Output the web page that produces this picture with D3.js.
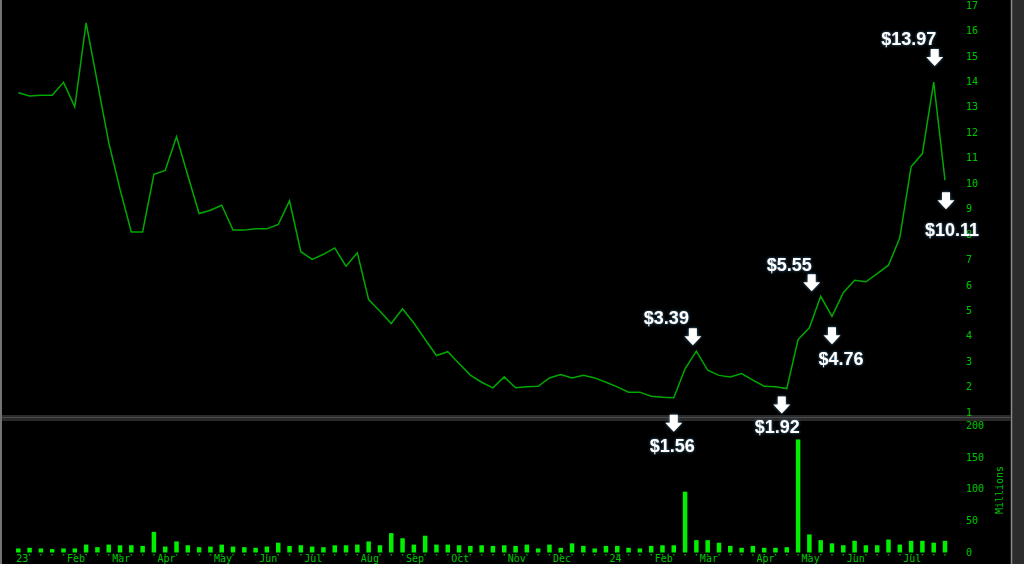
<!DOCTYPE html>
<html>
<head>
<meta charset="utf-8">
<script src="https://cdn.jsdelivr.net/npm/d3@7"></script>
<style>
  body { margin: 0; background: #000; }
  svg { display: block; }
  .tick text { font-family: "DejaVu Sans Mono", monospace; font-size: 10px; fill: #00c400; }
  .ann text { font-family: "Liberation Sans", Arial, sans-serif; font-weight: bold; font-size: 18px; fill: #fff; }
</style>
</head>
<body>
<div id="chart"></div>
<script>
// weekly closes, first week starts Mon 2 Jan 2023
const firstWeek = new Date(2023, 0, 2);
const closes = [
  13.55, 13.42, 13.45, 13.45, 13.96, 13.0, 16.3, 13.95, 11.6, 9.75,
  8.08, 8.08, 10.34, 10.5, 11.82, 10.3, 8.8, 8.93, 9.13, 8.15,
  8.15, 8.2, 8.2, 8.37, 9.3, 7.3, 7.0, 7.2, 7.45, 6.73,
  7.26, 5.42, 4.96, 4.48, 5.06, 4.5, 3.85, 3.22, 3.37, 2.91,
  2.45, 2.17, 1.95, 2.38, 1.95, 1.99, 2.01, 2.34, 2.47, 2.34,
  2.44, 2.34, 2.17, 1.99, 1.78, 1.78, 1.62, 1.58, 1.56, 2.7,
  3.39, 2.64, 2.44, 2.38, 2.51, 2.25, 2.01, 1.99, 1.92, 3.85,
  4.31, 5.55, 4.76, 5.69, 6.18, 6.12, 6.44, 6.77, 7.85, 10.64,
  11.16, 13.97, 10.11
];
// volume in millions
const volumes = [
  4, 5, 4, 3, 4, 4, 10, 6, 10, 9,
  9, 8, 30, 7, 15, 9, 6, 7, 10, 7,
  6, 5, 7, 13, 8, 9, 7, 6, 9, 9,
  10, 15, 9, 28, 20, 10, 24, 10, 10, 9,
  8, 9, 8, 9, 8, 10, 4, 10, 5, 12,
  8, 4, 8, 8, 5, 4, 8, 9, 9, 93,
  17, 17, 13, 8, 5, 8, 5, 5, 6, 175,
  26, 17, 12, 9, 16, 9, 9, 18, 10, 16,
  16, 13, 16
];
const priceTicks = d3.range(1, 18);
const volumeTicks = [0, 50, 100, 150, 200];
const monthLabels = ["23", "Feb", "Mar", "Apr", "May", "Jun", "Jul", "Aug", "Sep", "Oct", "Nov", "Dec",
                     "24", "Feb", "Mar", "Apr", "May", "Jun", "Jul"];
// callouts: week index, text
const calloutWeeks = [58, 60, 68, 71, 72, 81, 82];
const calloutTexts = ["$1.56", "$3.39", "$1.92", "$5.55", "$4.76", "$13.97", "$10.11"];

// layout of the callouts (arrow dx, arrow top dy, label dx, label baseline dy)
const calloutLayout = [
  [0, 17, -1.5, 54],
  [-3.5, -23, -30, -27],
  [-5, 8, -9.5, 44],
  [-9, -22, -31.5, -25],
  [0, 11, 9, 49],
  [1, -33, -25, -37],
  [1, 12, 7, 56]
];

const W = 1024, H = 564;
const weeks = closes.map((d, i) => d3.timeWeek.offset(firstWeek, i));

const svg = d3.select("#chart").append("svg")
  .attr("width", W).attr("height", H)
  .style("background", "#000");

const x = d3.scaleTime()
  .domain([weeks[0], weeks[weeks.length - 1]])
  .range([18.3, 945]);
const y = d3.scaleLinear().domain([1, 17]).range([412, 5]);
const yv = d3.scaleLinear().domain([0, 200]).range([552.5, 425]);

// frame
svg.append("rect").attr("x", 1012).attr("y", 0).attr("width", 12).attr("height", H).attr("fill", "#2c2c2c");
svg.append("line").attr("x1", 1011.5).attr("x2", 1011.5).attr("y1", 0).attr("y2", H)
  .attr("stroke", "#8a8a8a").attr("stroke-width", 1.5);
svg.append("line").attr("x1", 1).attr("x2", 1).attr("y1", 0).attr("y2", H)
  .attr("stroke", "#9a9a9a").attr("stroke-width", 1.5);
svg.append("rect").attr("x", 2).attr("y", 415).attr("width", 1009).attr("height", 6).attr("fill", "#2a2a2a");
svg.append("line").attr("x1", 2).attr("x2", 1011).attr("y1", 417.5).attr("y2", 417.5)
  .attr("stroke", "#4a4a4a").attr("stroke-width", 1);

// price axis
svg.append("g")
  .attr("transform", "translate(963,0)")
  .call(d3.axisRight(y).tickValues(priceTicks).tickSize(0).tickPadding(3))
  .call(g => g.select(".domain").remove());

// volume axis
svg.append("g")
  .attr("transform", "translate(963,0)")
  .call(d3.axisRight(yv).tickValues(volumeTicks).tickSize(0).tickPadding(3))
  .call(g => g.select(".domain").remove());

svg.append("text")
  .attr("transform", "translate(1000,490) rotate(-90)")
  .attr("text-anchor", "middle")
  .attr("dominant-baseline", "middle")
  .style("font-family", "DejaVu Sans Mono, monospace")
  .style("font-size", "10px")
  .style("fill", "#00c400")
  .text("Millions");

// month axis: label at the week holding the 1st of each month
const monthStarts = d3.timeMonth.range(new Date(2023, 0, 1), new Date(2024, 7, 1));
const monthWeeks = monthStarts.map(m => d3.max([d3.timeMonday.floor(m), weeks[0]]));
const xAxis = svg.append("g")
  .attr("transform", "translate(0,556)")
  .call(d3.axisBottom(x).tickValues(monthWeeks)
    .tickFormat((d, i) => monthLabels[i]).tickSize(0).tickPadding(0));
xAxis.select(".domain").remove();
xAxis.selectAll("text")
  .attr("text-anchor", "start")
  .attr("dx", (d, i) => i === 0 ? -2.5 : 3)
  .attr("dy", "0.62em");

// week ticks
svg.append("g").selectAll("rect")
  .data(weeks)
  .enter().append("rect")
  .attr("x", d => x(d) - 0.75)
  .attr("y", 554)
  .attr("width", 1.5)
  .attr("height", 1.5)
  .attr("fill", "#00a000");

// volume bars
svg.append("g").selectAll("rect")
  .data(volumes)
  .enter().append("rect")
  .attr("x", (d, i) => x(weeks[i]) - 2.25)
  .attr("y", d => yv(d) - 1.5)
  .attr("width", 4.5)
  .attr("height", d => yv(0) - yv(d) + 1.5)
  .attr("fill", "#00f000");

// price line
const line = d3.line()
  .x((d, i) => x(weeks[i]))
  .y(d => y(d));
svg.append("path")
  .datum(closes)
  .attr("d", line)
  .attr("fill", "none")
  .attr("stroke", "#00a800")
  .attr("stroke-width", 1.5);

// callouts
const defs = svg.append("defs");
const glow = defs.append("filter").attr("id", "glow")
  .attr("x", "-50%").attr("y", "-50%").attr("width", "200%").attr("height", "200%");
glow.append("feDropShadow").attr("dx", 0).attr("dy", 0).attr("stdDeviation", 1.6)
  .attr("flood-color", "#3d7fa8").attr("flood-opacity", 0.9);

const ann = svg.append("g").attr("class", "ann");
calloutWeeks.forEach((wk, k) => {
  const px = x(weeks[wk]);
  const py = y(closes[wk]);
  const [adx, ady, ldx, ldy] = calloutLayout[k];
  const cx = px + adx, top = py + ady;
  const arrow = d3.path();
  arrow.moveTo(cx - 4, top);
  arrow.lineTo(cx + 4, top);
  arrow.lineTo(cx + 4, top + 8);
  arrow.lineTo(cx + 8.5, top + 8);
  arrow.lineTo(cx, top + 17);
  arrow.lineTo(cx - 8.5, top + 8);
  arrow.lineTo(cx - 4, top + 8);
  arrow.closePath();
  ann.append("path").attr("d", arrow.toString())
    .attr("fill", "#fff").attr("filter", "url(#glow)");
  ann.append("text")
    .attr("x", px + ldx)
    .attr("y", py + ldy)
    .attr("text-anchor", "middle")
    .attr("filter", "url(#glow)")
    .text(calloutTexts[k]);
});
</script>
</body>
</html>
